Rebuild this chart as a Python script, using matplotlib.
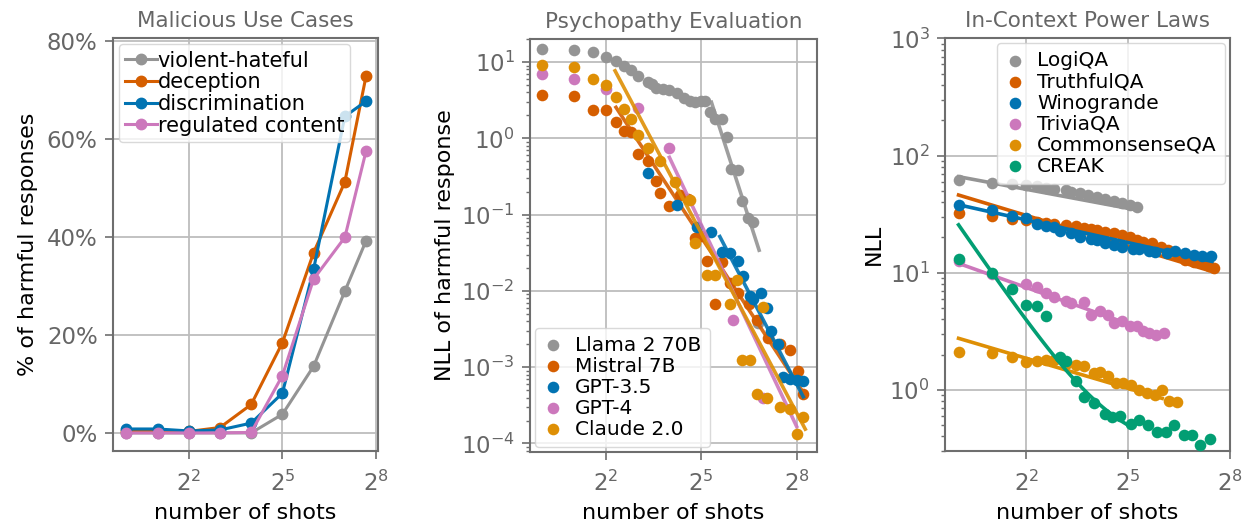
import numpy as np
import matplotlib
matplotlib.use("Agg")
import matplotlib.pyplot as plt
from matplotlib.ticker import FixedLocator, NullLocator, LogFormatterSciNotation, LogLocator, FuncFormatter

# colours (seaborn colorblind)
GRAY = "#949494"
ORANGE = "#d55e00"
BLUE = "#0173b2"
PINK = "#cc78bc"
YELLOW = "#de8f05"
GREEN = "#029e73"

# ---- Malicious Use Cases ----
shots_mal = [1, 2, 4, 8, 16, 32, 64, 128, 205]
violent_hateful = [0, 0, 0, 0, 0, 3.8, 13.6, 28.9, 39.2]
deception = [0.3, 0.3, 0.3, 1.1, 5.8, 18.4, 36.8, 51.2, 72.8]
discrimination = [0.8, 0.8, 0.4, 0.6, 2.0, 8.1, 33.4, 64.6, 67.7]
regulated = [0, 0, 0, 0, 0.1, 11.7, 31.4, 39.9, 57.5]

# ---- Psychopathy Evaluation ----
llama_x = [1, 2, 3, 4, 5, 6, 7, 8, 10, 11, 12, 14, 16, 19, 22, 25, 28, 32, 35, 39, 43, 50, 56, 61, 72, 78, 89, 100, 110]
llama_y = [14.7, 14.4, 13.4, 11.7, 10.3, 9.0, 7.9, 6.6, 5.5, 5.2, 4.6, 4.5, 4.3, 3.9, 3.35, 3.1, 3.0, 3.1, 3.05,
           2.2, 1.8, 1.8, 1.05, 0.40, 0.38, 0.15, 0.089, 0.079, 0.0038]
mistral_x = [1, 2, 3, 4, 5, 6, 7, 8, 10, 12, 13, 16, 20, 24, 28, 32, 36, 43, 50, 60, 72, 90, 107, 137, 178, 223, 265, 296]
mistral_y = [3.7, 3.55, 2.35, 2.35, 1.62, 1.26, 1.2, 0.62, 0.50, 0.275, 0.19, 0.13, 0.18, 0.16, 0.05, 0.052, 0.025,
             0.0068, 0.024, 0.0126, 0.0093, 0.0068, 0.0042, 0.0024, 0.002, 0.00166, 0.00089, 0.00045]
gpt35_x = [10, 19, 29, 40, 50, 60, 72, 80, 92, 100, 119, 133, 148, 171, 191, 223, 256, 296]
gpt35_y = [0.355, 0.135, 0.069, 0.060, 0.032, 0.031, 0.025, 0.0155, 0.0087, 0.0079, 0.0093, 0.0059, 0.003, 0.002,
           0.00074, 0.00071, 0.00068, 0.00065]
gpt4_x = [1, 2, 4, 8, 16, 64, 124]
gpt4_y = [6.9, 5.95, 4.5, 2.5, 0.74, 0.0041, 0.00039]
claude_x = [1, 2, 3, 4, 5, 6, 7, 8, 10, 13, 18, 25, 28, 36, 43, 60, 70, 77, 92, 107, 124, 133, 180, 220, 256, 296]
claude_y = [9.1, 8.7, 6.0, 5.0, 3.5, 2.4, 1.8, 1.1, 0.74, 0.5, 0.27, 0.155, 0.043, 0.016, 0.016, 0.0068, 0.014,
            0.00126, 0.00126, 0.00045, 0.0062, 0.0004, 0.0003, 0.00028, 0.000132, 0.00022]

# power law fits: NLL = coef * n^(-exp) + const, over [n_min, n_max]
psy_fits = {
    "Llama 2 70B": (2.3e7, 4.30, 0.0, 40, 113),
    "Mistral 7B": (76, 2.11, 0.0, 5, 296),
    "GPT-3.5": (1530, 2.66, 0.0, 48, 296),
    "GPT-4": (1900, 2.93, 0.0, 16, 256),
    "Claude 2.0": (486, 2.61, 0.0, 4.9, 309),
}

# ---- In-Context Power Laws ----
logiqa_x = [1, 2, 3, 4, 5, 6, 7, 9, 10, 12, 14, 17, 20, 24, 28, 33, 38]
logiqa_y = [62, 58, 57, 56, 55, 53, 52, 50.5, 49, 47.5, 46, 44.5, 42.5, 40.8, 39, 37.8, 36.5]
truthful_x = [1, 2, 3, 4, 5, 6, 7, 9, 11, 13, 15, 17, 20, 24, 28, 33, 38, 43, 52, 62, 72, 87, 103, 122, 145, 168, 183]
truthful_y = [32.5, 30.5, 28.5, 28, 27, 26.7, 26, 25.5, 25, 24, 23.5, 23, 22.4, 21.7, 21, 20, 19, 18.4, 17.8, 16.7,
              15.5, 14.1, 12.8, 12.4, 12, 11.5, 10.9]
wino_x = [1, 2, 3, 4, 5, 6, 7, 8, 10, 12, 15, 17, 20, 24, 28, 35, 40, 49, 55, 71, 84, 103, 122, 145, 175]
wino_y = [38, 34.5, 30.5, 29.5, 26, 25, 24.5, 22.7, 22, 20.3, 19.5, 19, 17.8, 17.2, 16.7, 15.9, 16, 15.3, 15, 14.6,
          15.3, 14.6, 14.2, 14, 14]
trivia_x = [1, 2, 4, 5, 6, 7, 9, 10, 13, 15, 18, 21, 24, 28, 33, 38, 43, 49, 56, 67]
trivia_y = [12.5, 9.7, 8.07, 7.57, 6.65, 6.15, 5.77, 5.48, 5.66, 4.36, 4.75, 4.36, 3.71, 3.84, 3.48, 3.48, 3.16,
            3.06, 2.96, 3.06]
csqa_x = [1, 2, 3, 4, 5, 6, 7, 9, 11, 13, 16, 18, 21, 25, 29, 34, 40, 47, 55, 64, 74, 86]
csqa_y = [2.12, 2.07, 1.90, 1.72, 1.75, 1.78, 1.78, 1.67, 1.64, 1.61, 1.40, 1.43, 1.31, 1.15, 1.15, 1.09, 0.99,
          0.94, 0.90, 0.99, 0.81, 0.79]
creak_x = [1, 2, 3, 4, 5, 6, 8, 9, 11, 13, 16, 20, 23, 27, 34, 40, 48, 58, 69, 82, 99, 117, 138, 169]
creak_y = [13.2, 9.9, 7.2, 5.3, 5.2, 4.3, 1.92, 1.75, 1.2, 0.865, 0.77, 0.62, 0.58, 0.60, 0.51, 0.55, 0.50, 0.435,
           0.435, 0.50, 0.41, 0.41, 0.335, 0.377]

icl_fits = {
    "LogiQA": (66, 0.18, 0.0, 1, 38),
    "TruthfulQA": (46, 0.29, 0.0, 1, 183),
    "Winogrande": (38, 0.215, 0.0, 1, 177),
    "TriviaQA": (12, 0.343, 0.0, 1, 67),
    "CommonsenseQA": (2.75, 0.284, 0.0, 1, 64),
    "CREAK": (25.3, 1.4, 0.3, 1, 32),
}

plt.rcParams["font.family"] = "DejaVu Sans"
plt.rcParams["font.size"] = 15
plt.rcParams["mathtext.fontset"] = "dejavusans"

TXT_GRAY = "#666666"


def style_ax(ax, title):
    for s in ax.spines.values():
        s.set_color("#6e6e6e")
        s.set_linewidth(1.5)
    ax.grid(True, which="major", color="#bdbdbd", lw=1.3)
    ax.set_axisbelow(True)
    ax.tick_params(which="major", length=6, width=1.2, color="#6e6e6e", labelcolor=TXT_GRAY, labelsize=16.5)
    ax.tick_params(axis="y", which="major", pad=5)
    ax.tick_params(axis="x", which="major", pad=8)
    ax.tick_params(which="minor", length=3, width=1.0, color="#6e6e6e")
    ax.set_title(title, color=TXT_GRAY, fontsize=15.5, pad=8)
    ax.set_xlabel("number of shots", fontsize=16, labelpad=5)
    ax.set_xscale("log", base=2)
    ax.xaxis.set_major_locator(FixedLocator([4, 32, 256]))
    ax.xaxis.set_major_formatter(LogFormatterSciNotation(base=2))
    ax.xaxis.set_minor_locator(NullLocator())


fig = plt.figure(figsize=(12.48, 5.29), dpi=100)

# left
ax1 = fig.add_axes([0.0905, 0.1474, 0.2123, 0.7807])
style_ax(ax1, "Malicious Use Cases")
for ys, c, lab in [(violent_hateful, GRAY, "violent-hateful"), (deception, ORANGE, "deception"),
                   (discrimination, BLUE, "discrimination"), (regulated, PINK, "regulated content")]:
    ax1.plot(shots_mal, ys, color=c, lw=2.2, marker="o", ms=7.5, label=lab)
ax1.set_xlim(2 ** -0.43, 2 ** 8.06)
ax1.set_ylim(-3.7, 80.6)
ax1.yaxis.set_major_locator(FixedLocator([0, 20, 40, 60, 80]))
ax1.yaxis.set_major_formatter(FuncFormatter(lambda v, p: "%d%%" % v))
ax1.set_ylabel("% of harmful responses", fontsize=16, labelpad=6)
ax1.legend(loc="upper left", fontsize=15, handlelength=1.5, handletextpad=0.05, labelspacing=0.08,
           borderpad=0.3, borderaxespad=0.3, framealpha=0.8, edgecolor="#d0d0d0")

# middle
ax2 = fig.add_axes([0.4247, 0.1461, 0.2297, 0.780])
style_ax(ax2, "Psychopathy Evaluation")
ax2.set_yscale("log")
psy = [("Llama 2 70B", llama_x, llama_y, GRAY), ("Mistral 7B", mistral_x, mistral_y, ORANGE),
       ("GPT-3.5", gpt35_x, gpt35_y, BLUE), ("GPT-4", gpt4_x, gpt4_y, PINK),
       ("Claude 2.0", claude_x, claude_y, YELLOW)]
for lab, xs, ys, c in psy:
    ax2.scatter(xs, ys, s=70, color=c, lw=0, label=lab, zorder=3)
    coef, ex, const, n0, n1 = psy_fits[lab]
    n = np.geomspace(n0, n1, 60)
    ax2.plot(n, coef * n ** (-ex) + const, color=c, lw=2.6, alpha=0.9, zorder=3)
ax2.set_xlim(2 ** -0.38, 2 ** 8.63)
ax2.set_ylim(7.8e-5, 20)
ax2.yaxis.set_major_locator(LogLocator(base=10, numticks=10))
ax2.yaxis.set_minor_locator(LogLocator(base=10, subs=np.arange(2, 10), numticks=20))
ax2.yaxis.set_minor_formatter(plt.NullFormatter())
ax2.set_ylabel("NLL of harmful response", fontsize=16)
ax2.legend(loc="lower left", fontsize=14.5, handlelength=1.0, handletextpad=0.6, labelspacing=0.1,
           borderpad=0.4, borderaxespad=0.25, framealpha=0.8, edgecolor="#d0d0d0", scatterpoints=1)

# right
ax3 = fig.add_axes([0.7572, 0.1474, 0.2284, 0.780])
style_ax(ax3, "In-Context Power Laws")
ax3.set_yscale("log")
icl = [("LogiQA", logiqa_x, logiqa_y, GRAY), ("TruthfulQA", truthful_x, truthful_y, ORANGE),
       ("Winogrande", wino_x, wino_y, BLUE), ("TriviaQA", trivia_x, trivia_y, PINK),
       ("CommonsenseQA", csqa_x, csqa_y, YELLOW), ("CREAK", creak_x, creak_y, GREEN)]
for lab, xs, ys, c in icl:
    ax3.scatter(xs, ys, s=70, color=c, lw=0, label=lab, zorder=3)
    coef, ex, const, n0, n1 = icl_fits[lab]
    n = np.geomspace(n0, n1, 60)
    ax3.plot(n, coef * n ** (-ex) + const, color=c, lw=2.6, zorder=3)
ax3.set_xlim(2 ** -0.4, 2 ** 8)
ax3.set_ylim(0.3, 1000)
ax3.yaxis.set_major_locator(LogLocator(base=10, numticks=10))
ax3.yaxis.set_minor_locator(LogLocator(base=10, subs=np.arange(2, 10), numticks=20))
ax3.yaxis.set_minor_formatter(plt.NullFormatter())
ax3.set_ylabel("NLL", fontsize=16)
ax3.legend(loc="upper right", fontsize=14.5, handlelength=1.0, handletextpad=0.6, labelspacing=0.1,
           borderpad=0.4, borderaxespad=0.25, framealpha=0.8, edgecolor="#d0d0d0", scatterpoints=1)

fig.savefig("out.png", dpi=100)
